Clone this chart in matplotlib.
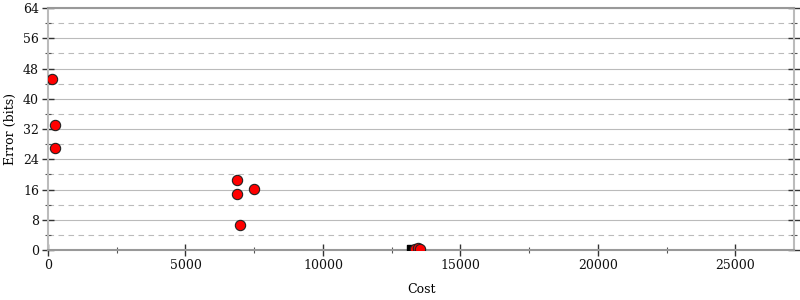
import matplotlib
matplotlib.use("Agg")
import matplotlib.pyplot as plt
from matplotlib.ticker import MultipleLocator

# Data
cost = [145, 255, 255, 6873, 6873, 7490, 6982, 13345, 13455, 13527]
error = [45.2, 33.1, 27.0, 18.5, 14.8, 16.1, 6.6, 0.2, 0.4, 0.2]
best_cost = [13236]
best_error = [0.0]

plt.rcParams['font.family'] = ['DejaVu Serif']
plt.rcParams['font.size'] = 9

fig = plt.figure(figsize=(8, 3), dpi=100)
ax = fig.add_axes([0.06, 0.1667, 0.9325, 0.8063])

ax.set_xlim(0, 27130)
ax.set_ylim(0, 64)
ax.xaxis.set_major_locator(MultipleLocator(5000))
ax.xaxis.set_minor_locator(MultipleLocator(2500))
ax.yaxis.set_major_locator(MultipleLocator(8))
ax.yaxis.set_minor_locator(MultipleLocator(4))

ax.grid(True, which='major', axis='y', color='#bbbbbb', linewidth=0.8, linestyle='-')
ax.grid(True, which='minor', axis='y', color='#bbbbbb', linewidth=0.8, linestyle=(0, (5, 4)))
ax.set_axisbelow(True)

for side, s in ax.spines.items():
    s.set_linewidth(1.5)
    s.set_color('#999999' if side in ('top', 'bottom') else '#bbbbbb')

ax.tick_params(axis='both', which='major', direction='inout', length=9, width=1, color='#333333', labelcolor='#111111', pad=2)
ax.tick_params(axis='both', which='minor', direction='inout', length=5, width=0.8, color='#555555')
ax.tick_params(axis='y', which='both', right=True)

ax.scatter(best_cost, best_error, marker='s', s=60, color='black', zorder=3)
ax.scatter(cost, error, marker='o', s=55, facecolor='red', edgecolor='#222222', linewidth=0.8, zorder=4)

ax.set_xlabel('Cost', labelpad=8)
ax.set_ylabel('Error (bits)', labelpad=4)

fig.savefig('out.png', dpi=100)
